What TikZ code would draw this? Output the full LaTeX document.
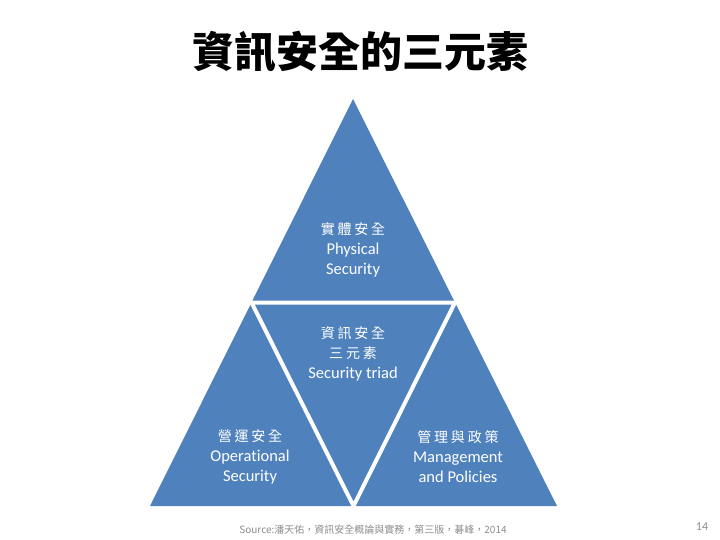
\documentclass[tikz,border=0pt]{standalone}
\usepackage{fontspec}
\usepackage{xcolor}
\setmainfont{Carlito}[Ligatures=NoCommon]
\newfontfamily\cjk{Noto Sans CJK TC}
\newfontfamily\cjkwide[LetterSpace=20]{Noto Sans CJK TC}
\usetikzlibrary{calc}
\definecolor{triblue}{HTML}{4F81BD}
\definecolor{notegray}{HTML}{8C8C8C}

\begin{document}
\begin{tikzpicture}[
			x=1pt, y=-1pt,
			part/.style={
				text=white, align=center, inner sep=0pt,
				font=\fontsize{16.5}{20}\selectfont
			},
			sep/.style={draw=white, line width=4pt},
			]
			\newcommand{\zh}[1]{{\cjkwide\fontsize{14}{20}\selectfont #1}}
			\useasboundingbox (0,0) rectangle (720,540);
			
			% ── Title ────────────────────────────────────────────────────────
			\node[font=\cjk\bfseries\fontsize{42}{48}\selectfont] (title) at (360,52) {資訊安全的三元素};
			
			% ── Triangle ─────────────────────────────────────────────────────
			\coordinate (apex) at (353,99);
			\coordinate (bl) at (150,506);
			\coordinate (br) at (557,506);
			\coordinate (ml) at ($(apex)!0.5!(bl)$);
			\coordinate (mr) at ($(apex)!0.5!(br)$);
			\coordinate (mb) at ($(bl)!0.5!(br)$);
			
			\fill[triblue] (apex) -- (bl) -- (br) -- cycle;
			\draw[sep] (ml) -- (mr) -- (mb) -- cycle;
			
			% ── Labels ───────────────────────────────────────────────────────
			\node[part] (phys) at (353,250) {\zh{實體安全}\\Physical\\Security};
			\node[part] (triad) at (353,354) {\zh{資訊安全}\\\zh{三元素}\\Security triad};
			\node[part] (oper) at (250,457) {\zh{營運安全}\\Operational\\Security};
			\node[part] (mgmt) at (458,457) {\zh{管理與政策}\\Management\\and Policies};
			
			% ── Footer ───────────────────────────────────────────────────────
			\node[text=notegray, font=\cjk\fontsize{10}{12}\selectfont] (source) at (373,530)
			{Source:潘天佑，資訊安全概論與實務，第三版，碁峰，2014};
			\node[text=notegray, font=\fontsize{12}{14}\selectfont] (page) at (702,527) {14};
			
		\end{tikzpicture}
\end{document}
